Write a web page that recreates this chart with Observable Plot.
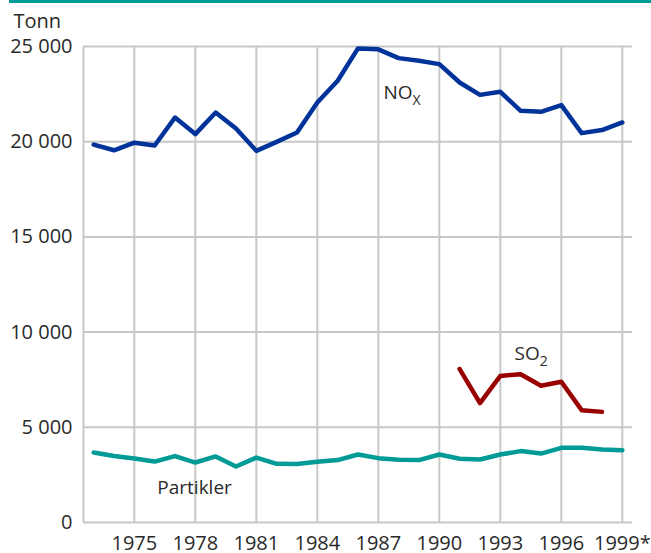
<!DOCTYPE html>
<html>
<head>
<meta charset="utf-8">
<script src="https://cdn.jsdelivr.net/npm/d3@7"></script>
<script src="https://cdn.jsdelivr.net/npm/@observablehq/plot@0.6"></script>
<style>
  html, body { margin: 0; padding: 0; background: #fff; }
  #topline { height: 3px; background: #009a97; margin-left: 9px; }
</style>
</head>
<body>
<div id="topline"></div>
<div id="chart"></div>
<script>
const years = d3.range(1973, 2000);
const noxValues = [19850, 19550, 19950, 19800, 21270, 20400, 21530, 20690, 19520, 19990, 20480, 22060, 23200, 24900, 24850, 24390, 24250, 24075, 23110, 22460, 22620, 21620, 21570, 21920, 20450, 20610, 21010];
const partiklerValues = [3680, 3490, 3360, 3200, 3490, 3150, 3470, 2940, 3410, 3080, 3070, 3190, 3280, 3570, 3380, 3290, 3280, 3570, 3350, 3310, 3570, 3750, 3620, 3920, 3920, 3830, 3800];
const so2Years = [1991, 1992, 1993, 1994, 1995, 1996, 1997, 1998];
const so2Values = [8060, 6270, 7700, 7790, 7180, 7390, 5900, 5810];
const xTicks = [1975, 1978, 1981, 1984, 1987, 1990, 1993, 1996, 1999];
const xTickLabels = ["1975", "1978", "1981", "1984", "1987", "1990", "1993", "1996", "1999*"];
const yTicks = [0, 5000, 10000, 15000, 20000, 25000];
const labels = [
  {name: "NOx", year: 1987.25, value: 22570, main: "NO", sub: "X"},
  {name: "SO2", year: 1993.7, value: 8860, main: "SO", sub: "2"},
  {name: "Partikler", year: 1976.13, value: 1840, main: "Partikler", sub: ""}
];

const nox = years.map((y, i) => ({year: y, value: noxValues[i]}));
const part = years.map((y, i) => ({year: y, value: partiklerValues[i]}));
const so2 = so2Years.map((y, i) => ({year: y, value: so2Values[i]}));
const xDomain = [1972.5, 1999.5];

const grid = "#c8c8c8";
const ink = "#2a2a2a";
const plot = Plot.plot({
  width: 651,
  height: 550,
  marginLeft: 83,
  marginRight: 19,
  marginTop: 43,
  marginBottom: 31,
  style: {fontFamily: "'Open Sans', sans-serif", fontSize: "20px", color: ink, background: "#fff"},
  x: {domain: xDomain},
  y: {domain: [0, 25000]},
  marks: [
    Plot.ruleX([xDomain[0], ...xTicks], {y1: 0, y2: 25000, stroke: grid, strokeWidth: 2}),
    Plot.ruleY(yTicks, {x1: xDomain[0], x2: xDomain[1], stroke: grid, strokeWidth: 2}),
    Plot.line(part, {x: "year", y: "value", stroke: "#009a97", strokeWidth: 4.5}),
    Plot.line(so2, {x: "year", y: "value", stroke: "#990000", strokeWidth: 4.5}),
    Plot.line(nox, {x: "year", y: "value", stroke: "#003399", strokeWidth: 4.5}),
    Plot.text(labels, {x: "year", y: "value", text: "main", textAnchor: "start", fill: ink, fontSize: 19, className: "serieslabel"}),
    Plot.text(["Tonn"], {frameAnchor: "top-left", textAnchor: "start", lineAnchor: "middle", dx: -70, dy: -25, fill: ink, fontSize: 20}),
    Plot.axisX({ticks: xTicks, tickSize: 0, tickPadding: 13, tickFormat: d => xTickLabels[xTicks.indexOf(d)], label: null, fontSize: 20}),
    Plot.axisY({ticks: yTicks, tickSize: 0, tickPadding: 11, tickFormat: d => d3.format(",")(d).replace(/,/g, " "), label: null, fontSize: 20})
  ]
});
document.getElementById("chart").appendChild(plot);

// add subscripts to series labels
d3.select(plot).selectAll("g.serieslabel text").each(function(d) {
  const lab = labels[d];
  if (lab && lab.sub) {
    d3.select(this).append("tspan").attr("font-size", 14).attr("dy", 6).text(lab.sub);
  }
});
</script>
</body>
</html>
